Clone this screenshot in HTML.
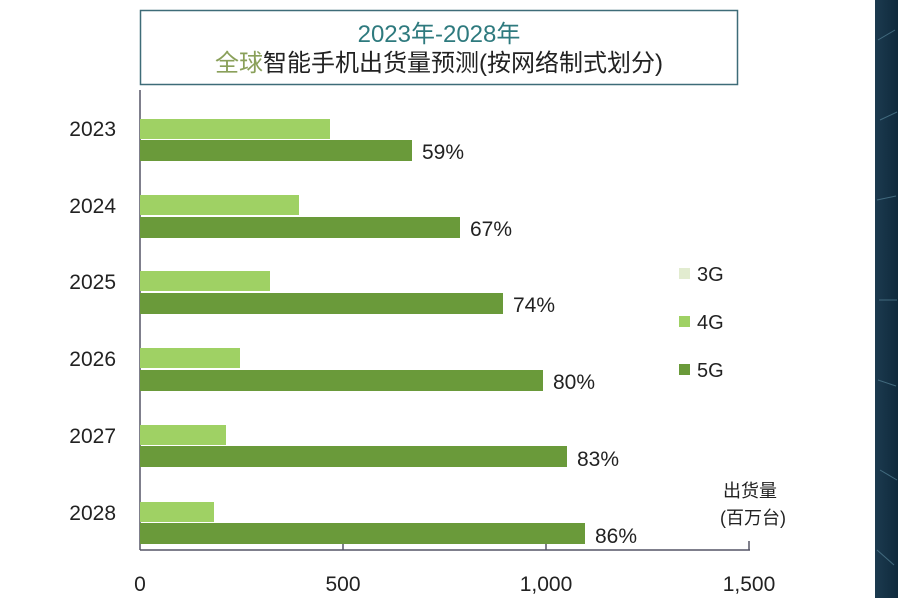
<!DOCTYPE html>
<html><head><meta charset="utf-8"><style>
body{margin:0;width:898px;height:598px;overflow:hidden;background:#fff;font-family:"Liberation Sans","Noto Sans CJK SC",sans-serif;}
</style></head><body>
<svg width="898" height="598" xmlns="http://www.w3.org/2000/svg" style="position:absolute;left:0;top:0">
<defs><linearGradient id="dk" x1="0" x2="1"><stop offset="0" stop-color="#1c3a4f"/><stop offset="1" stop-color="#0f2a3c"/></linearGradient></defs>
<rect x="875" y="0" width="23" height="598" fill="url(#dk)"/>
<g stroke="#5f8fa3" stroke-width="1" opacity="0.6">
<line x1="878" y1="40" x2="895" y2="30"/><line x1="880" y1="120" x2="897" y2="112"/><line x1="877" y1="200" x2="896" y2="196"/><line x1="879" y1="300" x2="897" y2="300"/><line x1="878" y1="380" x2="896" y2="386"/><line x1="880" y1="470" x2="897" y2="480"/><line x1="877" y1="550" x2="894" y2="565"/>
</g>
<rect x="140.5" y="10.5" width="597" height="74" fill="#fff" stroke="#3e6c78" stroke-width="1.5"/>
<text x="439" y="42" text-anchor="middle" font-size="24" fill="#2e7a7e">2023年-2028年</text>
<text x="439" y="71" text-anchor="middle" font-size="24" fill="#222"><tspan fill="#8aa05a">全球</tspan>智能手机出货量预测(按网络制式划分)</text>
<line x1="140" y1="90" x2="140" y2="550" stroke="#556" stroke-width="1.5"/>
<line x1="140" y1="550" x2="750" y2="550" stroke="#556" stroke-width="1.5"/>
<g stroke="#556" stroke-width="1.5"><line x1="343" y1="541" x2="343" y2="550"/><line x1="546" y1="541" x2="546" y2="550"/><line x1="749" y1="541" x2="749" y2="550"/></g>
<g font-size="21" fill="#222" text-anchor="middle">
<text x="140" y="591">0</text><text x="343" y="591">500</text><text x="546" y="591">1,000</text><text x="749" y="591">1,500</text>
</g>
<g fill="#9fd164">
<rect x="140" y="119" width="190" height="20"/><rect x="140" y="195" width="159" height="20"/><rect x="140" y="271" width="130" height="20"/><rect x="140" y="348" width="100" height="20"/><rect x="140" y="425" width="86" height="20"/><rect x="140" y="502" width="74" height="20"/>
</g>
<g fill="#6a9a3a">
<rect x="140" y="140" width="272" height="21"/><rect x="140" y="217" width="320" height="21"/><rect x="140" y="293" width="363" height="21"/><rect x="140" y="370" width="403" height="21"/><rect x="140" y="446" width="427" height="21"/><rect x="140" y="523" width="445" height="21"/>
</g>
<g font-size="21" fill="#222" text-anchor="end">
<text x="116" y="136">2023</text><text x="116" y="213">2024</text><text x="116" y="289">2025</text><text x="116" y="366">2026</text><text x="116" y="443">2027</text><text x="116" y="520">2028</text>
</g>
<g font-size="21" fill="#222">
<text x="422" y="159">59%</text><text x="470" y="236">67%</text><text x="513" y="312">74%</text><text x="553" y="389">80%</text><text x="577" y="466">83%</text><text x="595" y="543">86%</text>
</g>
<rect x="679" y="268" width="11" height="11" fill="#e2ecd0"/>
<rect x="679" y="316" width="11" height="11" fill="#9fd164"/>
<rect x="679" y="364" width="11" height="11" fill="#6a9a3a"/>
<g font-size="20" fill="#222"><text x="697" y="281">3G</text><text x="697" y="329">4G</text><text x="697" y="377">5G</text></g>
<text x="723" y="497" font-size="18" fill="#222">出货量</text>
<text x="720" y="524" font-size="18" fill="#222">(百万台)</text>
</svg>
</body></html>
